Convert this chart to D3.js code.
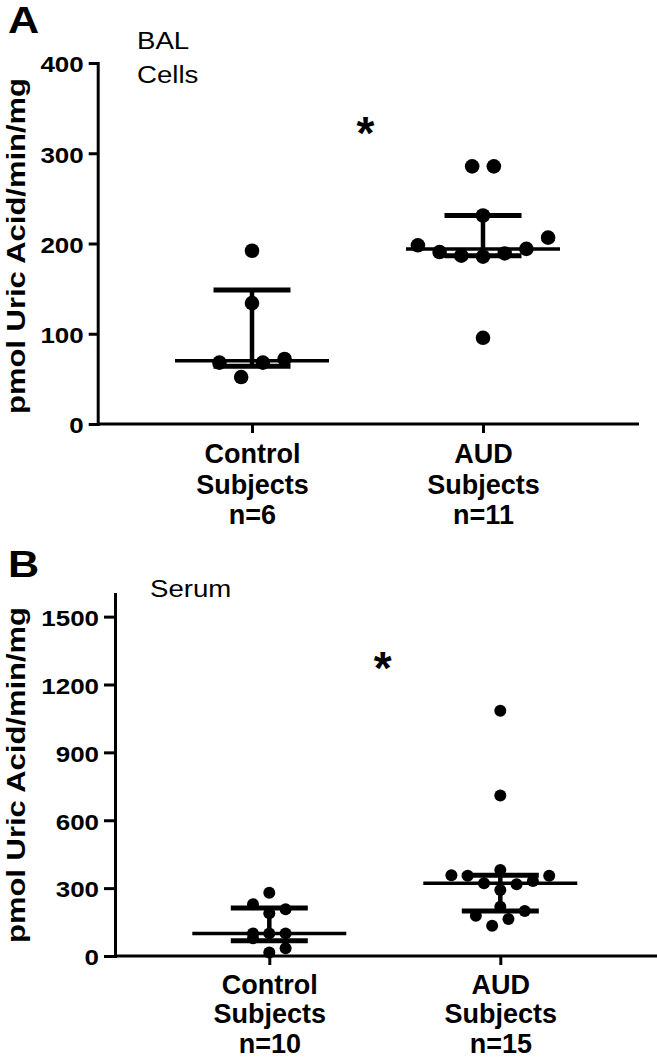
<!DOCTYPE html>
<html>
<head>
<meta charset="utf-8">
<script src="https://cdn.jsdelivr.net/npm/d3@7"></script>
<style>
  body { margin: 0; background: #fff; }
  svg { display: block; font-family: "Liberation Sans", Arial, sans-serif; }
</style>
</head>
<body>
<div id="chart"></div>
<script>
// --- data ---
const categories = ["Control", "AUD"];
const catLines = [["Control", "Subjects"], ["AUD", "Subjects"]];

const balControl = [192, 134, 68, 68, 72, 52];
const balAUD = [285.5, 285.5, 231, 206.5, 198, 190.5, 186.5, 185.5, 189, 194, 95.5];
const balN = ["n=6", "n=11"];
const balTicks = [0, 100, 200, 300, 400];
const balTitle = ["BAL", "Cells"];
const balSig = 330;

const serumControl = [280, 229, 207, 189, 100, 100, 100, 78, 34, 15];
const serumAUD = [1084, 709, 380, 357, 355, 355, 332, 322, 317, 292, 218, 199, 178, 164, 134];
const serumN = ["n=10", "n=15"];
const serumTicks = [0, 300, 600, 900, 1200, 1500];
const serumTitle = ["Serum"];
const serumSig = 1305;

const yLabel = "pmol Uric Acid/min/mg";
const sigMark = "*";

const width = 657, height = 1059;
const STRETCH = 1.18; // glyphs in the figure are a bit wider than Arial

const svg = d3.select("#chart").append("svg")
    .attr("width", width)
    .attr("height", height);

// GraphPad style quartiles (type 6)
function quant(sorted, p) {
    const h = (sorted.length + 1) * p;
    const lo = Math.floor(h);
    if (lo < 1) return sorted[0];
    if (lo >= sorted.length) return sorted[sorted.length - 1];
    return sorted[lo - 1] + (h - lo) * (sorted[lo] - sorted[lo - 1]);
}

// rows of close values spread sideways from the centre
function swarm(values, y, step, oddDir) {
    const pts = values.map(v => ({ v, py: y(v) })).sort((a, b) => a.v - b.v);
    const gap = step * 0.92;
    const rows = [];
    let row = null;
    pts.forEach(p => {
        if (!row || row[0].py - p.py > gap) { row = []; rows.push(row); }
        row.push(p);
    });
    rows.forEach(r => {
        const n = r.length;
        r.forEach((p, i) => {
            if (n % 2 === 1) {
                p.off = i === 0 ? 0 : (i % 2 === 1 ? oddDir : -oddDir) * Math.ceil(i / 2);
            } else {
                p.off = (i % 2 === 0 ? -1 : 1) * (Math.floor(i / 2) + 0.5);
            }
        });
    });
    return pts;
}

function stretch(sel, k) {
    sel.each(function() {
        const w = this.getComputedTextLength();
        d3.select(this).attr("textLength", w * k).attr("lengthAdjust", "spacingAndGlyphs");
    });
}

function panel(cfg) {
    const g = svg.append("g");
    const y = d3.scaleLinear().domain([0, cfg.yMax]).range([cfg.bottom, cfg.top]);
    const x = d3.scalePoint().domain(categories)
        .range([cfg.left + 154.3, cfg.left + 385.3]);

    // y axis
    const ya = g.append("g")
        .attr("transform", `translate(${cfg.left},0)`)
        .call(d3.axisLeft(y).tickValues(cfg.ticks).tickFormat(d3.format("d"))
            .tickSize(cfg.tick).tickSizeOuter(0).tickPadding(5));
    ya.select(".domain").attr("stroke-width", 3).attr("stroke-linecap", "square");
    ya.selectAll(".tick line").attr("stroke-width", 3);
    ya.selectAll(".tick text")
        .attr("font-size", 22).attr("font-weight", "bold").attr("fill", "#000")
        .attr("font-family", "Liberation Sans, Arial, sans-serif")
        .attr("dy", "0.4em")
        .call(stretch, STRETCH);

    // x axis
    g.append("line")
        .attr("x1", cfg.left).attr("x2", cfg.right)
        .attr("y1", y(0)).attr("y2", y(0))
        .attr("stroke", "#000").attr("stroke-width", 3);
    const xa = g.append("g")
        .attr("transform", `translate(0,${y(0)})`)
        .call(d3.axisBottom(x).tickSize(9).tickFormat(""));
    xa.select(".domain").remove();
    xa.selectAll(".tick line").attr("stroke-width", 3);
    xa.selectAll(".tick text").remove();
    xa.selectAll(".tick").each(function(d, i) {
        const t = d3.select(this).append("text")
            .attr("text-anchor", "middle")
            .attr("font-size", 27).attr("font-weight", "bold").attr("fill", "#000")
            .attr("font-family", "Liberation Sans, Arial, sans-serif");
        catLines[i].concat([cfg.n[i]]).forEach((s, j) => {
            t.append("tspan").attr("x", 0).attr("y", cfg.catY + j * cfg.catGap).text(s);
        });
    });

    // dots + median / IQR
    cfg.series.forEach((vals, i) => {
        const cx = x(categories[i]);
        const pts = swarm(vals, y, cfg.step, cfg.oddDir);
        g.append("g").selectAll("circle")
            .data(pts)
            .join("circle")
            .attr("cx", d => cx + d.off * cfg.step)
            .attr("cy", d => d.py)
            .attr("r", cfg.r)
            .attr("fill", "#000");

        const s = vals.slice().sort((a, b) => a - b);
        const med = quant(s, 0.5), q1 = quant(s, 0.25), q3 = quant(s, 0.75);
        const lg = g.append("g").attr("stroke", "#000");
        lg.append("line").attr("x1", cx).attr("x2", cx)
            .attr("y1", y(q1)).attr("y2", y(q3)).attr("stroke-width", 4.5);
        lg.selectAll(".iqr").data([q1, q3]).join("line")
            .attr("class", "iqr")
            .attr("x1", cx - 38.5).attr("x2", cx + 38.5)
            .attr("y1", d => y(d)).attr("y2", d => y(d))
            .attr("stroke-width", 5);
        lg.append("line")
            .attr("x1", cx - 77).attr("x2", cx + 77)
            .attr("y1", y(med)).attr("y2", y(med))
            .attr("stroke-width", 3.5);
    });

    // significance mark
    g.append("text")
        .attr("x", (x(categories[0]) + x(categories[1])) / 2 - 2)
        .attr("y", y(cfg.sig) + 23)
        .attr("text-anchor", "middle")
        .attr("font-size", 46).attr("font-weight", "bold")
        .text(sigMark);

    // y label
    g.append("text")
        .attr("transform", `translate(24.5,${cfg.labelY}) rotate(-90)`)
        .attr("text-anchor", "middle")
        .attr("font-size", 26).attr("font-weight", "bold")
        .attr("textLength", 336).attr("lengthAdjust", "spacingAndGlyphs")
        .text(yLabel);

    // panel letter + title
    g.append("text")
        .attr("x", 8).attr("y", cfg.letterY)
        .attr("font-size", 36).attr("font-weight", "bold")
        .text(cfg.letter)
        .call(stretch, 1.2);
    cfg.title.forEach((s, j) => {
        g.append("text")
            .attr("x", cfg.titleX).attr("y", cfg.titleY + j * 34)
            .attr("font-size", 23)
            .text(s)
            .call(stretch, 1.2);
    });
}

panel({
    letter: "A", letterY: 33,
    left: 97.7, right: 639, top: 63, bottom: 424, yMax: 400,
    ticks: balTicks, tick: 9, step: 21.7, r: 7.3, oddDir: -1,
    series: [balControl, balAUD], n: balN, sig: balSig, catY: 39, catGap: 30.5,
    title: balTitle, titleX: 137, titleY: 49, labelY: 246
});

panel({
    letter: "B", letterY: 577,
    left: 115, right: 657, top: 594, bottom: 956, yMax: 1600,
    ticks: serumTicks, tick: 11, step: 16.3, r: 6, oddDir: 1,
    series: [serumControl, serumAUD], n: serumN, sig: serumSig, catY: 37.5, catGap: 29.5,
    title: serumTitle, titleX: 150, titleY: 597, labelY: 775
});
</script>
</body>
</html>
